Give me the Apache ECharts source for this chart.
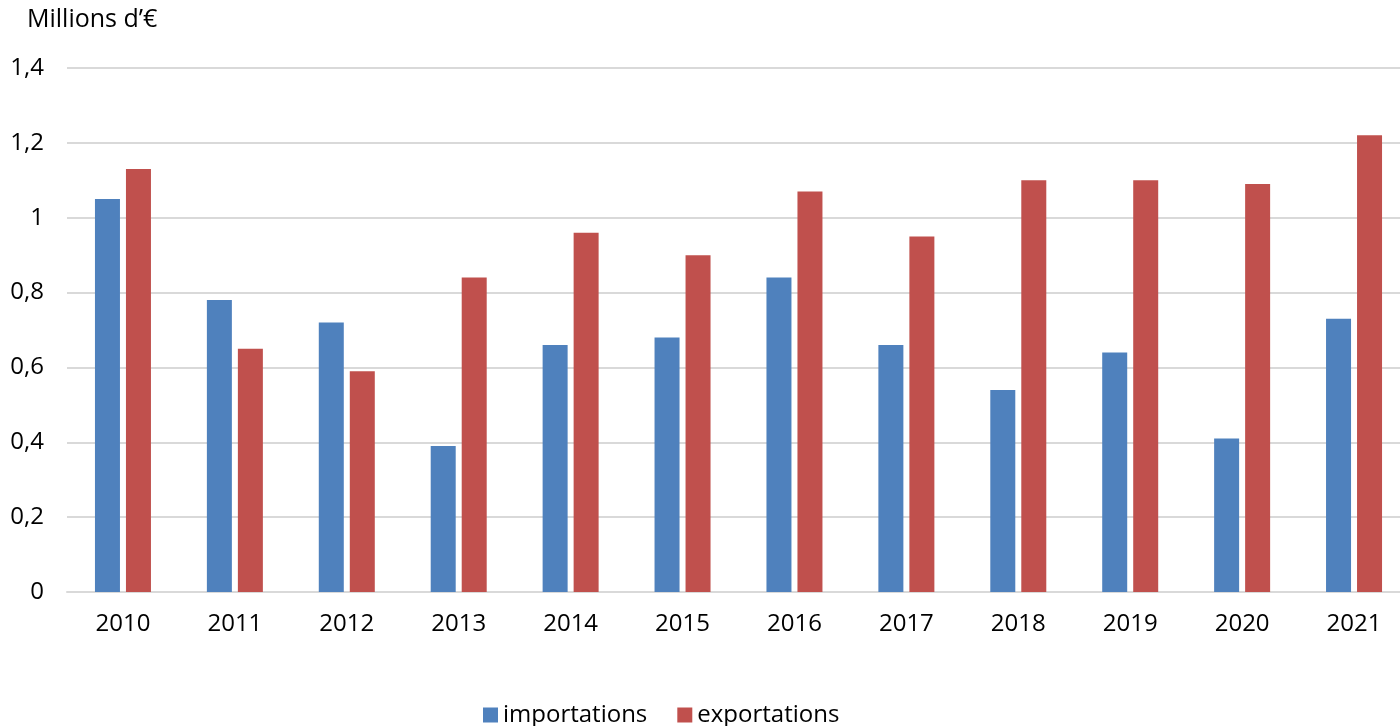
<!DOCTYPE html>
<html><head><meta charset="utf-8">
<script src="https://cdn.jsdelivr.net/npm/echarts@6/dist/echarts.min.js"></script>
<style>html,body{margin:0;padding:0;background:#fff;overflow:hidden}#c{width:1410px;height:726px}</style>
</head><body><div id="c"></div>
<script>
const categories = ['2010','2011','2012','2013','2014','2015','2016','2017','2018','2019','2020','2021'];
const importations = [1.05, 0.78, 0.72, 0.39, 0.66, 0.68, 0.84, 0.66, 0.54, 0.64, 0.41, 0.73];
const exportations = [1.13, 0.65, 0.59, 0.84, 0.96, 0.90, 1.07, 0.95, 1.10, 1.10, 1.09, 1.22];
const yTicks = { min: 0, max: 1.4, interval: 0.2 };
const unitLabel = 'Millions d\u2019€';

const FONT = '"Open Sans", "Noto Sans", sans-serif';
const chart = echarts.init(document.getElementById('c'), null, {renderer: 'canvas'});
chart.setOption({
  animation: false,
  textStyle: {fontFamily: FONT},
  title: {text: unitLabel, left: 22, top: 2, textStyle: {fontFamily: FONT, fontSize: 25, fontWeight: 'normal', color: '#000'}},
  grid: {left: 67, right: 0, top: 68, bottom: 134, containLabel: false},
  legend: {
    bottom: -6, left: 478, itemWidth: 15, itemHeight: 15, itemGap: 30,
    icon: 'rect',
    textStyle: {fontFamily: FONT, fontSize: 24, color: '#000'},
    data: ['importations', 'exportations']
  },
  xAxis: {
    type: 'category', data: categories,
    axisLine: {lineStyle: {color: '#d9d9d9', width: 2}},
    axisTick: {show: false},
    axisLabel: {fontFamily: FONT, fontSize: 24, color: '#000', margin: 20}
  },
  yAxis: {
    type: 'value', min: yTicks.min, max: yTicks.max, interval: yTicks.interval,
    axisLine: {show: false}, axisTick: {show: false},
    splitLine: {lineStyle: {color: '#d9d9d9', width: 2}},
    axisLabel: {fontFamily: FONT, fontSize: 24, color: '#000', margin: 23,
      formatter: v => (Math.round(v*10)/10).toString().replace('.', ',')}
  },
  series: [
    {name: 'importations', type: 'bar', data: importations, barWidth: 25, barGap: '24%',
     itemStyle: {color: '#4F81BD'}},
    {name: 'exportations', type: 'bar', data: exportations, barWidth: 25,
     itemStyle: {color: '#C0504D'}}
  ]
});
</script></body></html>
